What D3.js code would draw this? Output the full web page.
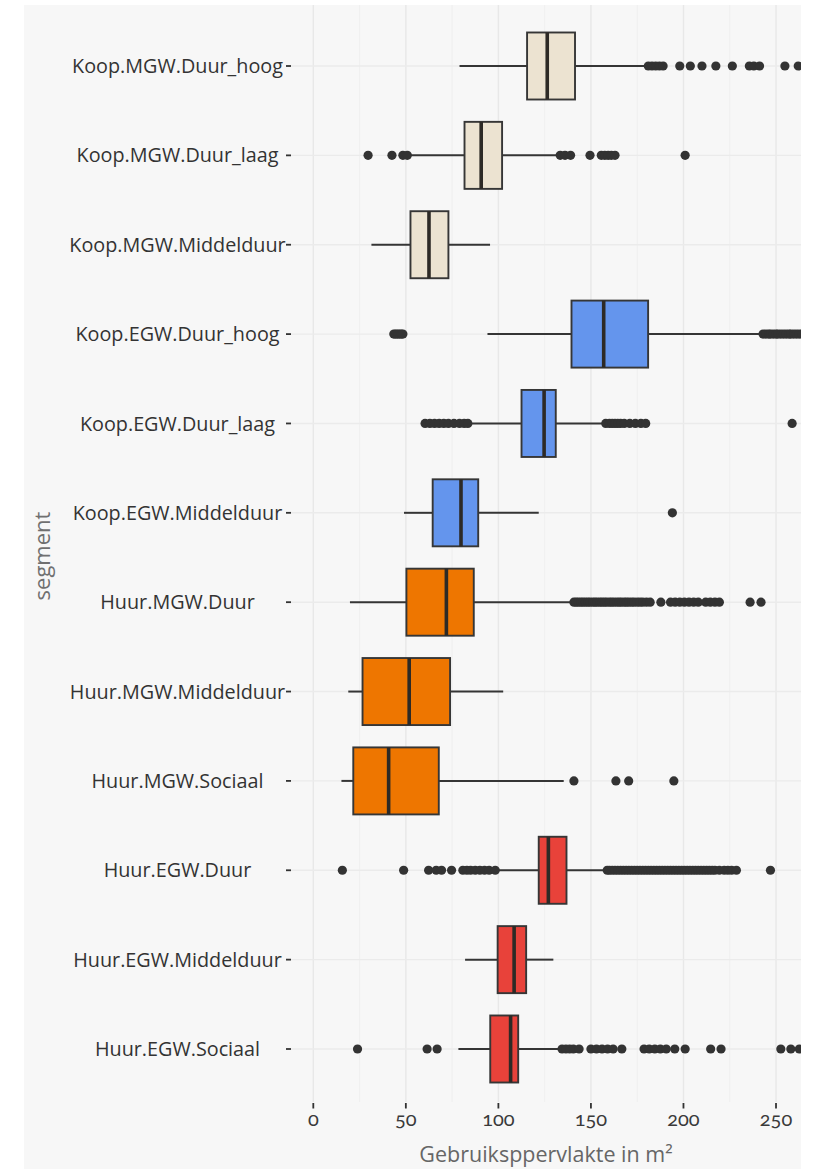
<!DOCTYPE html>
<html>
<head>
<meta charset="utf-8">
<script src="https://cdn.jsdelivr.net/npm/d3@7"></script>
<style>
  html, body { margin: 0; padding: 0; background: #ffffff; }
  svg { display: block; }
  text { font-family: "Open Sans", "Noto Sans", sans-serif; }
  .num { font-family: "Lato", "Noto Sans", sans-serif; font-variant-numeric: oldstyle-nums; font-feature-settings: "onum" 1; }
</style>
</head>
<body>
<svg id="chart" width="815" height="1169"></svg>
<script>
// ---------- data ----------
const categories = [
  "Koop.MGW.Duur_hoog", "Koop.MGW.Duur_laag", "Koop.MGW.Middelduur",
  "Koop.EGW.Duur_hoog", "Koop.EGW.Duur_laag", "Koop.EGW.Middelduur",
  "Huur.MGW.Duur", "Huur.MGW.Middelduur", "Huur.MGW.Sociaal",
  "Huur.EGW.Duur", "Huur.EGW.Middelduur", "Huur.EGW.Sociaal"
];
const groups = [
  "Koop.MGW", "Koop.MGW", "Koop.MGW",
  "Koop.EGW", "Koop.EGW", "Koop.EGW",
  "Huur.MGW", "Huur.MGW", "Huur.MGW",
  "Huur.EGW", "Huur.EGW", "Huur.EGW"
];
const whiskerLow  = [79.0, 52.1, 31.4, 94.1, 84.5, 49.0, 19.8, 18.9, 15.2, 99.2, 82.0, 78.4];
const q1          = [115.5, 81.7, 52.5, 139.5, 112.5, 64.5, 50.3, 26.6, 21.6, 121.8, 99.6, 95.6];
const median      = [126.4, 90.7, 62.5, 156.9, 124.7, 79.8, 71.9, 51.8, 40.7, 127.0, 108.5, 106.6];
const q3          = [141.4, 102.0, 73.0, 180.9, 131.0, 89.1, 86.7, 73.9, 67.8, 136.8, 115.0, 110.7];
const whiskerHigh = [179.6, 131.6, 95.5, 241.9, 156.5, 121.8, 140.3, 102.6, 135.3, 158.0, 129.7, 132.5];
const outliers = [
  [181, 183, 185, 187, 189, 198, 203.7, 210, 217.5, 226.4, 235.6, 238, 241.1, 254.8, 262],
  [29.6, 42.5, 48.4, 50.8, 133.4, 136, 139, 149.5, 155.6, 157.5, 159.3, 161, 163, 200.9],
  [],
  [43.5, 44.5, 45.5, 46.5, 47.5, 48.4, 243, 244.5, 246, 247, 248.5, 250, 251, 252.5, 254, 255.5, 257, 258, 259.5, 261, 262.5, 264, 266, 268],
  [60.4, 63, 65.5, 68, 70.5, 73, 76, 79, 81.5, 83.5, 158, 160, 161.5, 163, 164.5, 166, 168, 171, 174, 177, 179.6, 258.7],
  [194],
  [140.8, 142, 143.2, 144.5, 145.7, 147, 148.3, 149.5, 151, 152.2, 153.4, 154.8, 156, 157.3, 158.5, 160, 161.2, 162.5, 164, 165.3, 166.5, 168, 169.2, 170.5, 172, 173.3, 175, 176.5, 178, 180, 182, 187.8, 193, 195.5, 198, 200.5, 203, 205.5, 208, 212, 214.5, 217, 219.4, 236, 241.9],
  [],
  [140.8, 163.5, 170.4, 194.8],
  [15.7, 48.8, 62.3, 66.4, 69.3, 74.7, 80.8, 83, 85, 87.5, 90, 92.5, 95, 98.3, 158.8, 160, 161.5, 163, 164.5, 166, 167.5, 169, 170.5, 172, 173.5, 175, 176.5, 178, 179.5, 181, 182.5, 184, 185.5, 187, 188.5, 190, 191.5, 193, 194.5, 196, 197.5, 199, 200.5, 202, 203.5, 205, 206.5, 208, 209.5, 211, 212.5, 214, 215.5, 217, 219.4, 222, 224, 226, 228.6, 247],
  [],
  [23.9, 61.5, 66.9, 134.4, 136.5, 138.5, 140.5, 143.6, 150, 153, 156, 159, 162, 166.7, 178.7, 181.5, 184.5, 187.5, 190.7, 195.3, 200.9, 214.7, 220.3, 252.6, 258, 262.6]
];
const xTicks = [0, 50, 100, 150, 200, 250];
const xMinorTicks = [25, 75, 125, 175, 225];
const groupColors = {
  "Koop.MGW": "#ece3d1",
  "Koop.EGW": "#6495ed",
  "Huur.MGW": "#ee7600",
  "Huur.EGW": "#e8423a"
};
const xTitle = "Gebruiksppervlakte in m²";
const yTitle = "segment";

// ---------- layout ----------
const svg = d3.select("#chart");
const panel = { left: 291, right: 801, top: 5, bottom: 1102 };

svg.append("rect").attr("x", 24).attr("y", 5).attr("width", 777).attr("height", 1164).attr("fill", "#f7f7f7");

const x = d3.scaleLinear().domain([-12.05, 263.5]).range([panel.left, panel.right]);
const y = d3.scalePoint().domain(categories).range([66, 1049]);
const boxH = 0.75 * y.step();

// grid
const grid = svg.append("g");
grid.selectAll("line.minor").data(xMinorTicks).join("line")
  .attr("x1", d => x(d)).attr("x2", d => x(d))
  .attr("y1", panel.top).attr("y2", panel.bottom)
  .attr("stroke", "#ededed").attr("stroke-width", 0.8);
grid.selectAll("line.major").data(xTicks).join("line")
  .attr("x1", d => x(d)).attr("x2", d => x(d))
  .attr("y1", panel.top).attr("y2", panel.bottom)
  .attr("stroke", "#e8e8e8").attr("stroke-width", 1.4);
grid.selectAll("line.hmajor").data(categories).join("line")
  .attr("x1", panel.left).attr("x2", panel.right)
  .attr("y1", d => y(d)).attr("y2", d => y(d))
  .attr("stroke", "#ebebeb").attr("stroke-width", 1.4);

// clip
svg.append("defs").append("clipPath").attr("id", "clip")
  .append("rect").attr("x", panel.left).attr("y", panel.top)
  .attr("width", panel.right - panel.left).attr("height", panel.bottom - panel.top);

const plot = svg.append("g").attr("clip-path", "url(#clip)");

const rows = categories.map((c, i) => ({
  cat: c, grp: groups[i], lo: whiskerLow[i], q1: q1[i], med: median[i], q3: q3[i], hi: whiskerHigh[i], out: outliers[i]
}));

const g = plot.selectAll("g.box").data(rows).join("g").attr("class", "box");
// whiskers
g.append("line")
  .attr("x1", d => x(d.lo)).attr("x2", d => x(d.q1))
  .attr("y1", d => y(d.cat)).attr("y2", d => y(d.cat))
  .attr("stroke", "#353535").attr("stroke-width", 2);
g.append("line")
  .attr("x1", d => x(d.q3)).attr("x2", d => x(d.hi))
  .attr("y1", d => y(d.cat)).attr("y2", d => y(d.cat))
  .attr("stroke", "#353535").attr("stroke-width", 2);
// box
g.append("rect")
  .attr("x", d => x(d.q1)).attr("width", d => x(d.q3) - x(d.q1))
  .attr("y", d => y(d.cat) - boxH / 2).attr("height", boxH)
  .attr("fill", d => groupColors[d.grp])
  .attr("stroke", "#363636").attr("stroke-width", 1.9);
// median
g.append("line")
  .attr("x1", d => x(d.med)).attr("x2", d => x(d.med))
  .attr("y1", d => y(d.cat) - boxH / 2).attr("y2", d => y(d.cat) + boxH / 2)
  .attr("stroke", "#2d2a26").attr("stroke-width", 3.6);
// outliers
g.selectAll("circle").data(d => d.out.map(v => ({ v, cat: d.cat }))).join("circle")
  .attr("cx", d => x(d.v)).attr("cy", d => y(d.cat)).attr("r", 4.6)
  .attr("fill", "#333333");

// y axis ticks + labels
const yAx = svg.append("g");
yAx.selectAll("line").data(categories).join("line")
  .attr("x1", panel.left - 5).attr("x2", panel.left)
  .attr("y1", d => y(d)).attr("y2", d => y(d))
  .attr("stroke", "#333").attr("stroke-width", 1.8);
yAx.selectAll("text").data(categories).join("text")
  .attr("x", 177.5).attr("y", d => y(d)).attr("dy", "0.36em")
  .attr("text-anchor", "middle")
  .attr("font-size", 19.8).attr("fill", "#333333")
  .text(d => d);

// x axis ticks + labels
const xAx = svg.append("g");
xAx.selectAll("line").data(xTicks).join("line")
  .attr("x1", d => x(d)).attr("x2", d => x(d))
  .attr("y1", panel.bottom + 1).attr("y2", panel.bottom + 6.5)
  .attr("stroke", "#333").attr("stroke-width", 1.8);
xAx.selectAll("text").data(xTicks).join("text")
  .attr("class", "num")
  .attr("x", d => x(d)).attr("y", 1126)
  .attr("text-anchor", "middle")
  .attr("font-size", 20).attr("fill", "#3a3a3a")
  .text(d => d);

// titles
svg.append("text")
  .attr("x", (panel.left + panel.right) / 2).attr("y", 1162)
  .attr("text-anchor", "middle").attr("font-size", 21.5).attr("fill", "#666666")
  .text(xTitle);
svg.append("text")
  .attr("transform", `translate(50, 556) rotate(-90)`)
  .attr("text-anchor", "middle").attr("font-size", 22).attr("fill", "#707070")
  .text(yTitle);
</script>
</body>
</html>
